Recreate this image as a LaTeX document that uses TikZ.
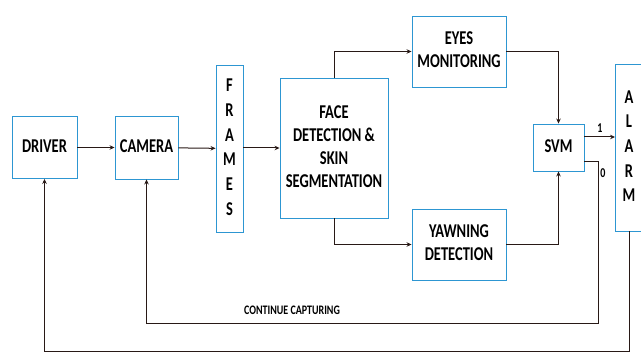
\documentclass[tikz,border=0pt]{standalone}
\usepackage{fontspec}
\setmainfont{Carlito}
\usepackage{graphicx}
\usetikzlibrary{arrows.meta}
\definecolor{boxblue}{RGB}{45,150,210}
\definecolor{linedark}{RGB}{40,25,22}
\newcommand\tx[1]{\scalebox{1}[1.35]{\begin{tabular}{@{}c@{}}#1\end{tabular}}}
\begin{document}
\begin{tikzpicture}[x=1pt,y=-1pt,
  box/.style={draw=boxblue, line width=0.9pt, fill=white, inner sep=0pt, align=center, font=\bfseries\fontsize{14.5}{17}\selectfont, text=black},
  tall/.style={box, font=\bfseries\fontsize{14.5}{18.3}\selectfont},
  conn/.style={draw=linedark, line width=1pt, -{Stealth[length=5pt,width=4.5pt]}},
  lbl/.style={inner sep=0pt, font=\bfseries\fontsize{10}{12}\selectfont, text=black}]
\useasboundingbox (0,0) rectangle (641,358);
\clip (0,0) rectangle (641,358);
\fill[white] (0,0) rectangle (641,358);
\node[box, minimum width=65pt, minimum height=62pt] (driver) at (44.5,147.5) {\tx{DRIVER}};
\node[box, minimum width=63pt, minimum height=63pt] (camera) at (146.5,147.5) {\tx{CAMERA}};
\node[tall, minimum width=27pt, minimum height=167pt] (frames) at (229.5,148.5) {\tx{F\\R\\A\\M\\E\\S}};
\node[box, minimum width=108pt, minimum height=140pt] (face) at (334,148) {\tx{FACE\\DETECTION \&\\SKIN\\SEGMENTATION}};
\node[box, minimum width=94pt, minimum height=71pt] (eyes) at (459,51.5) {\tx{EYES\\MONITORING}};
\node[box, minimum width=94pt, minimum height=71pt] (yawn) at (459,244.5) {\tx{YAWNING\\DETECTION}};
\node[box, minimum width=51pt, minimum height=47pt] (svm) at (558.5,147.5) {\tx{SVM}};
\node[tall, minimum width=27pt, minimum height=167pt] (alarm) at (629,147.5) {\tx{A\\L\\A\\R\\M}};
\coordinate (y1) at (0,137);
\coordinate (y0) at (0,162);
\coordinate (k1) at (598,324);
\coordinate (k2) at (44.5,352);
\draw[conn] (driver) -- (camera);
\draw[conn] (camera) -- (frames);
\draw[conn] (frames.east |- face.west) -- (face.west);
\draw[conn] (face.north) |- (eyes.west);
\draw[conn] (eyes.east) -| (svm.north);
\draw[conn] (face.south) |- (yawn.west);
\draw[conn] (yawn.east) -| (svm.south);
\draw[conn] (svm.east |- y1) -- (alarm.west |- y1);
\draw[conn] (svm.east |- y0) -| (k1) -| (camera.south);
\draw[conn] (alarm.south) |- (k2) -- (driver.south);
\node[lbl] (one) at (600,128) {\scalebox{1}[1.35]{1}};
\node[lbl] (zero) at (603,173) {\scalebox{1}[1.35]{0}};
\node[lbl] (cont) at (292,310) {\scalebox{1}[1.3]{CONTINUE CAPTURING}};
\end{tikzpicture}
\end{document}
